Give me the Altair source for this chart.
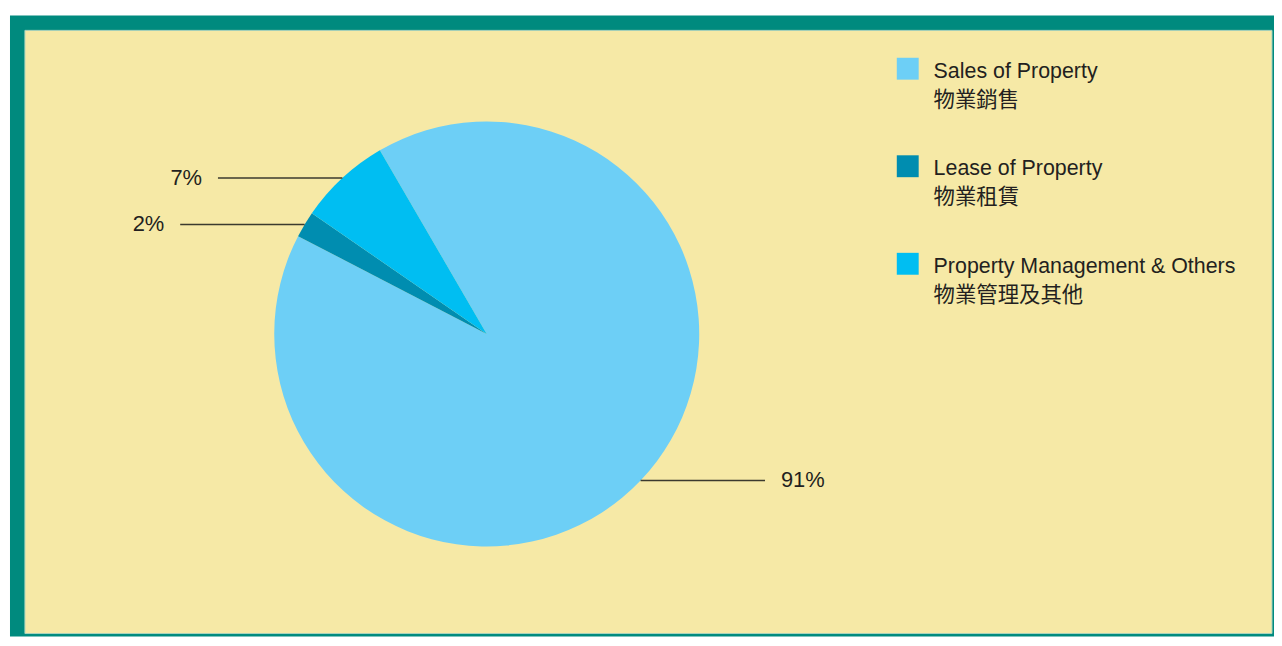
import math
import altair as alt
import pandas as pd

# ---- data ----
categories = ["Sales of Property", "Lease of Property", "Property Management & Others"]
categories_zh = ["物業銷售", "物業租賃", "物業管理及其他"]
shares = [91, 2, 7]
pct_labels = ["91%", "2%", "7%"]
colors = ["#6dcff6", "#008db0", "#00bef2"]

df = pd.DataFrame({
    "category": categories,
    "zh": categories_zh,
    "share": shares,
    "label": pct_labels,
    "order": list(range(len(categories))),
})

# ---- layout / style ----
W, H = 1272, 630
TEAL = "#008a7e"
YELLOW = "#f6e9a6"
START = -0.527          # pie rotation (radians, clockwise from 12 o'clock)
CX, CY, R = 481, 326, 213.5
L, G = 125, 16          # leader length, gap to text
FONT = "Liberation Sans, Noto Sans CJK TC"
LX, LY0, LSTEP = 904, 59.5, 98   # legend symbol centre x, first centre y, spacing

color_scale = alt.Scale(domain=categories, range=colors)

deco = alt.Chart(pd.DataFrame({"d": [0]}))
frame = deco.mark_rect(color=TEAL).encode(
    x=alt.value(2), x2=alt.value(W), y=alt.value(6), y2=alt.value(H))
panel = deco.mark_rect(color=YELLOW, stroke="#a9d3bd", strokeWidth=1).encode(
    x=alt.value(17), x2=alt.value(W - 2), y=alt.value(21), y2=alt.value(H - 3))

base = alt.Chart(df)
pie = base.mark_arc(radius=R).encode(
    theta=alt.Theta("share:Q", stack=True,
                    scale=alt.Scale(range=[START, START + 2 * math.pi])),
    color=alt.Color("category:N", scale=color_scale, legend=None),
    order=alt.Order("order:Q"),
    x=alt.value(CX), y=alt.value(CY),
)

# leader lines + percentage labels at each slice's mid-angle
lab = base.transform_window(
    cum="sum(share)", sort=[alt.SortField("order")], frame=[None, 0]
).transform_joinaggregate(
    total="sum(share)"
).transform_calculate(
    mid=f"{START} + 2*PI*(datum.cum - datum.share/2)/datum.total"
).transform_calculate(
    ax=f"{CX} + {R}*sin(datum.mid)",
    ay=f"{CY} - {R}*cos(datum.mid)",
    side="sin(datum.mid) >= 0 ? 1 : -1",
).transform_calculate(
    bx=f"datum.ax + datum.side*{L}",
    tx=f"datum.ax + datum.side*{L + G}",
)

rules = lab.mark_rule(color="#3b3a2e", strokeWidth=1.5).encode(
    x=alt.X("ax:Q", scale=None), x2="bx:Q", y=alt.Y("ay:Q", scale=None))
text_r = lab.transform_filter("datum.side > 0").mark_text(
    align="left", baseline="middle", font=FONT, fontSize=22, color="#231f20"
).encode(x=alt.X("tx:Q", scale=None), y=alt.Y("ay:Q", scale=None), text="label:N")
text_l = lab.transform_filter("datum.side < 0").mark_text(
    align="right", baseline="middle", font=FONT, fontSize=22, color="#231f20"
).encode(x=alt.X("tx:Q", scale=None), y=alt.Y("ay:Q", scale=None), text="label:N")

# legend (symbols + two-line bilingual labels)
leg = base.transform_calculate(
    ly=f"{LY0} + datum.order*{LSTEP}",
    ty=f"{LY0} - 8 + datum.order*{LSTEP}",
    lines="[datum.category, datum.zh]",
)
leg_sym = leg.mark_square(size=484, opacity=1).encode(
    x=alt.value(LX), y=alt.Y("ly:Q", scale=None),
    color=alt.Color("category:N", scale=color_scale, legend=None))
leg_txt = leg.mark_text(
    align="left", baseline="top", lineHeight=29, font=FONT, fontSize=21.5,
    color="#231f20"
).encode(x=alt.value(LX + 26), y=alt.Y("ty:Q", scale=None), text="lines:N")

chart = alt.layer(frame, panel, pie, rules, text_r, text_l, leg_sym, leg_txt).properties(
    width=W, height=H, padding=0, autosize=alt.AutoSizeParams(type="none"),
    background="white",
).configure_view(stroke=None)

chart.save("out.html", embed_options={"renderer": "svg", "actions": False})
